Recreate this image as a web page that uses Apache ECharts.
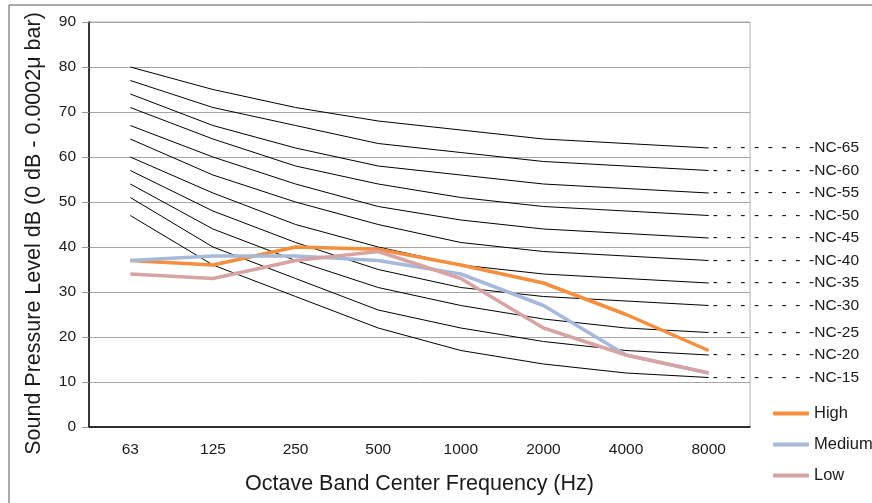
<!DOCTYPE html>
<html>
<head>
<meta charset="utf-8">
<script src="https://cdn.jsdelivr.net/npm/echarts@6/dist/echarts.min.js"></script>
<style>
  html, body { margin: 0; padding: 0; background: #fff; }
  #main { width: 872px; height: 503px; }
</style>
</head>
<body>
<div id="main"></div>
<script>
// 频率 (Hz)
var freqs = ['63', '125', '250', '500', '1000', '2000', '4000', '8000'];

// NC 曲线
var ncNames = ['NC-65', 'NC-60', 'NC-55', 'NC-50', 'NC-45', 'NC-40', 'NC-35', 'NC-30', 'NC-25', 'NC-20', 'NC-15'];
var nc65 = [80, 75, 71, 68, 66, 64, 63, 62];
var nc60 = [77, 71, 67, 63, 61, 59, 58, 57];
var nc55 = [74, 67, 62, 58, 56, 54, 53, 52];
var nc50 = [71, 64, 58, 54, 51, 49, 48, 47];
var nc45 = [67, 60, 54, 49, 46, 44, 43, 42];
var nc40 = [64, 56, 50, 45, 41, 39, 38, 37];
var nc35 = [60, 52, 45, 40, 36, 34, 33, 32];
var nc30 = [57, 48, 41, 35, 31, 29, 28, 27];
var nc25 = [54, 44, 37, 31, 27, 24, 22, 21];
var nc20 = [51, 40, 33, 26, 22, 19, 17, 16];
var nc15 = [47, 36, 29, 22, 17, 14, 12, 11];
var ncValues = [nc65, nc60, nc55, nc50, nc45, nc40, nc35, nc30, nc25, nc20, nc15];

// 测量数据
var levelNames = ['High', 'Medium', 'Low'];
var high = [37, 36, 40, 39.5, 36, 32, 25, 17];
var medium = [37, 38, 38, 37, 34, 27, 16, 12];
var low = [34, 33, 37, 39, 33, 22, 16, 12];
var levelColors = ['#F58F3E', '#A7B9DB', '#D8A3A3'];

var font = 'Liberation Sans, Arial, sans-serif';
var series = [];

ncValues.forEach(function (vals, i) {
    series.push({
        name: ncNames[i],
        type: 'line',
        data: vals,
        symbol: 'none',
        silent: true,
        z: 2,
        lineStyle: { color: '#000', width: 1 },
        endLabel: {
            show: true,
            distance: 4,
            color: '#1a1a1a',
            fontFamily: font,
            fontSize: 15.5,
            formatter: function () {
                return '-  -  -  -  -  -  -  -' + ncNames[i];
            }
        }
    });
});

[high, medium, low].forEach(function (vals, i) {
    series.push({
        name: levelNames[i],
        type: 'line',
        data: vals,
        symbol: 'none',
        z: 5,
        color: levelColors[i],
        lineStyle: { color: levelColors[i], width: 3.5 }
    });
});

var myChart = echarts.init(document.getElementById('main'));
var option = {
    animation: false,
    backgroundColor: '#fff',
    textStyle: { fontFamily: font },
    graphic: [{
        type: 'rect',
        shape: { x: 9, y: 5, width: 900, height: 540 },
        style: { fill: 'none', stroke: '#555', lineWidth: 1 },
        silent: true
    }],
    grid: { left: 89, top: 22, right: 122, bottom: 76, show: true, borderColor: '#b0b0b0', borderWidth: 1 },
    legend: {
        data: levelNames,
        orient: 'vertical',
        left: 768,
        top: 400,
        itemGap: 14,
        itemWidth: 36,
        itemHeight: 4,
        icon: 'roundRect',
        textStyle: { fontFamily: font, fontSize: 16.5, color: '#1a1a1a' }
    },
    xAxis: {
        type: 'category',
        data: freqs,
        boundaryGap: true,
        name: 'Octave Band Center Frequency (Hz)',
        nameLocation: 'middle',
        nameGap: 46,
        nameTextStyle: { fontFamily: font, fontSize: 21.5, color: '#1a1a1a' },
        axisLine: { lineStyle: { color: '#000', width: 1.5 } },
        axisTick: { inside: true, length: 6, lineStyle: { color: '#333' } },
        axisLabel: { margin: 15, fontFamily: font, fontSize: 15.5, color: '#1a1a1a' },
        splitLine: { show: false }
    },
    yAxis: {
        type: 'value',
        min: 0,
        max: 90,
        interval: 10,
        name: 'Sound Pressure Level dB (0 dB - 0.0002\u03bc bar)',
        nameLocation: 'middle',
        nameGap: 44,
        nameTextStyle: { fontFamily: font, fontSize: 21.5, color: '#1a1a1a', padding: [0, 18, 0, 0] },
        axisLine: { show: true, lineStyle: { color: '#000', width: 1.5 } },
        axisTick: { show: true, length: 7, lineStyle: { color: '#999' } },
        axisLabel: { margin: 13, fontFamily: font, fontSize: 15.5, color: '#1a1a1a' },
        splitLine: { lineStyle: { color: '#a6a6a6', width: 1 } }
    },
    series: series
};
myChart.setOption(option);
</script>
</body>
</html>
